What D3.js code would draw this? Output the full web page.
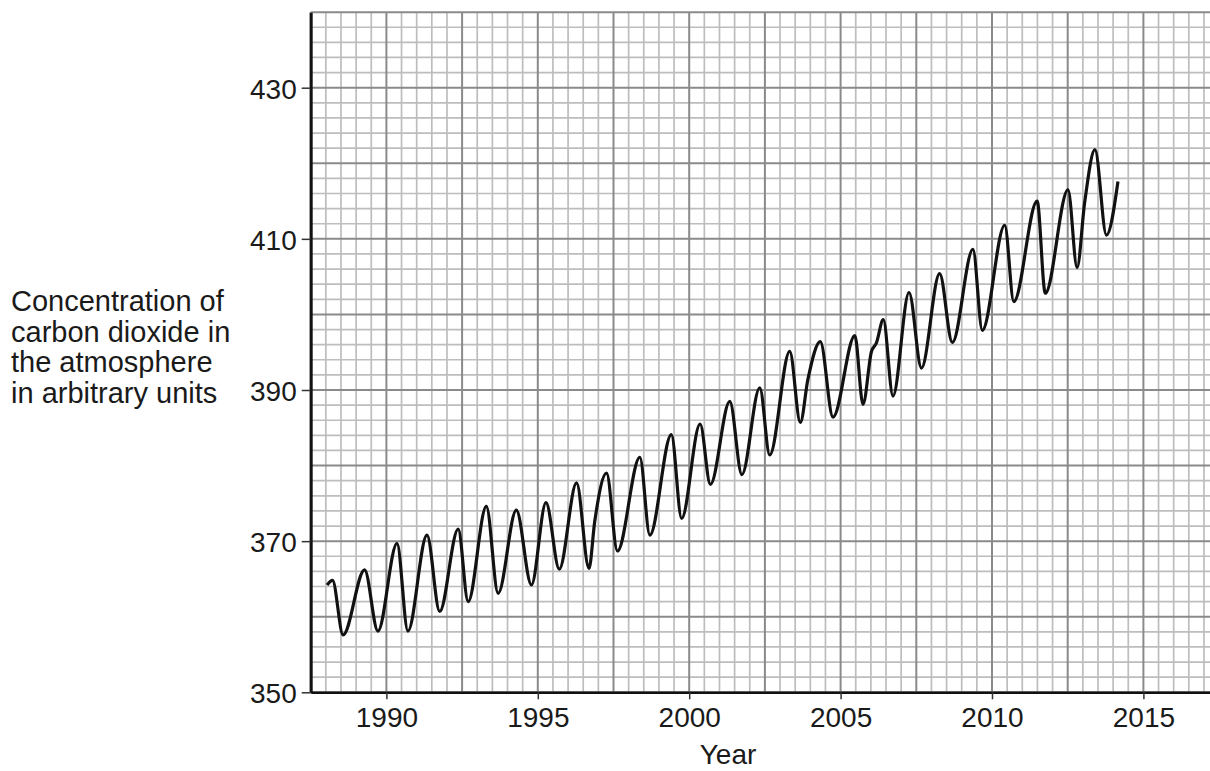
<!DOCTYPE html>
<html>
<head>
<meta charset="utf-8">
<script src="https://cdn.jsdelivr.net/npm/d3@7"></script>
<style>
  html, body { margin: 0; padding: 0; background: #fff; }
  svg { display: block; font-family: "Liberation Sans", Arial, sans-serif; }
</style>
</head>
<body>
<script>
// points (year, concentration)
var years = [1988.04, 1988.22, 1988.57, 1989.28, 1989.72, 1990.35, 1990.71, 1991.34, 1991.76, 1992.37,
  1992.70, 1993.30, 1993.69, 1994.29, 1994.79, 1995.27, 1995.71, 1996.28, 1996.69, 1996.88,
  1997.27, 1997.63, 1998.37, 1998.70, 1999.41, 1999.75, 2000.36, 2000.70, 2001.34, 2001.74,
  2002.33, 2002.66, 2003.32, 2003.67, 2003.92, 2004.33, 2004.75, 2005.47, 2005.74, 2006.02,
  2006.18, 2006.41, 2006.73, 2007.26, 2007.67, 2008.27, 2008.69, 2009.37, 2009.68, 2010.42,
  2010.72, 2011.49, 2011.76, 2012.51, 2012.81, 2013.06, 2013.40, 2013.78, 2014.16];
var co2 = [364.2, 364.8, 357.6, 366.2, 358.1, 369.7, 358.1, 370.8, 360.7, 371.6,
  362.0, 374.6, 363.1, 374.1, 364.2, 375.1, 366.3, 377.7, 366.4, 372.6,
  379.0, 368.7, 381.1, 370.8, 384.1, 373.0, 385.5, 377.5, 388.5, 378.8,
  390.3, 381.4, 395.1, 385.7, 391.4, 396.4, 386.4, 397.2, 388.1, 395.1,
  396.2, 399.3, 389.2, 402.9, 392.9, 405.4, 396.3, 408.6, 397.9, 411.8,
  401.7, 415.0, 402.8, 416.5, 406.2, 414.8, 421.8, 410.5, 417.6];

// tick labels
var xTicks = [1990, 1995, 2000, 2005, 2010, 2015];
var yTicks = [350, 370, 390, 410, 430];
var yLabel = ["Concentration of", "carbon dioxide in", "the atmosphere", "in arbitrary units"];
var xLabel = "Year";

var width = 1210, height = 771;

var svg = d3.select("body")
  .append("svg")
  .attr("width", width)
  .attr("height", height);

// scales: axis corner sits at (310.7, 692.3)
var x = d3.scaleLinear().domain([1987.5, 2017.5]).range([310.7, 310.7 + 30 * 30.28]);
var y = d3.scaleLinear().domain([350, 440]).range([692.3, 692.3 - 90 * 7.5575]);

// graph paper grid
var minorX = d3.range(1987.5, 2017.51, 0.5);
var minorY = d3.range(350, 440.1, 2);
var isMajorX = function(v) { return Math.abs((v / 2.5) - Math.round(v / 2.5)) < 1e-6; };
var isMajorY = function(v) { return v % 10 === 0; };

var grid = svg.append("g");

grid.selectAll("line.vminor")
  .data(minorX.filter(function(v) { return !isMajorX(v); }))
  .enter().append("line")
  .attr("x1", function(d) { return x(d); })
  .attr("x2", function(d) { return x(d); })
  .attr("y1", y(350)).attr("y2", y(440))
  .style("stroke", "#bdbdbd").style("stroke-width", 1.7);

grid.selectAll("line.hminor")
  .data(minorY.filter(function(v) { return !isMajorY(v); }))
  .enter().append("line")
  .attr("x1", x(1987.5)).attr("x2", width)
  .attr("y1", function(d) { return y(d); })
  .attr("y2", function(d) { return y(d); })
  .style("stroke", "#bdbdbd").style("stroke-width", 1.7);

grid.selectAll("line.vmajor")
  .data(minorX.filter(isMajorX))
  .enter().append("line")
  .attr("x1", function(d) { return x(d); })
  .attr("x2", function(d) { return x(d); })
  .attr("y1", y(350)).attr("y2", y(440))
  .style("stroke", "#8a8a8a").style("stroke-width", 2);

grid.selectAll("line.hmajor")
  .data(minorY.filter(isMajorY))
  .enter().append("line")
  .attr("x1", x(1987.5)).attr("x2", width)
  .attr("y1", function(d) { return y(d); })
  .attr("y2", function(d) { return y(d); })
  .style("stroke", "#8a8a8a").style("stroke-width", 2);

// axes
var xAxis = svg.append("g")
  .attr("transform", "translate(0," + y(350) + ")")
  .call(d3.axisBottom(x).tickValues(xTicks).tickFormat(d3.format("d"))
    .tickSize(7).tickSizeOuter(0).tickPadding(8));

var yAxis = svg.append("g")
  .attr("transform", "translate(" + x(1987.5) + ",0)")
  .call(d3.axisLeft(y).tickValues(yTicks).tickFormat(d3.format("d"))
    .tickSize(9).tickSizeOuter(0).tickPadding(5));

xAxis.select(".domain").style("stroke", "#111").style("stroke-width", 2.6);
yAxis.select(".domain").style("stroke", "#111").style("stroke-width", 3);
svg.selectAll(".tick line").style("stroke", "#333").style("stroke-width", 1.5);
svg.selectAll(".tick text")
  .style("font-family", "'Liberation Sans', Arial, sans-serif")
  .style("font-size", "28px")
  .style("fill", "#1a1a1a");
yAxis.selectAll(".tick text").attr("dy", "0.37em");

// the carbon dioxide curve
var line = d3.line()
  .x(function(d) { return x(d[0]); })
  .y(function(d) { return y(d[1]); })
  .curve(d3.curveMonotoneX);

svg.append("path")
  .datum(d3.zip(years, co2))
  .attr("d", line)
  .style("fill", "none")
  .style("stroke", "#111")
  .style("stroke-width", 3.2)
  .style("stroke-linejoin", "round");

// axis titles
svg.append("text")
  .attr("x", 11)
  .style("font-size", "29px")
  .style("fill", "#1a1a1a")
  .selectAll("tspan")
  .data(yLabel)
  .enter().append("tspan")
  .attr("x", 11)
  .attr("y", function(d, i) { return 311 + i * 30.5; })
  .text(function(d) { return d; });

svg.append("text")
  .attr("x", 728)
  .attr("y", 764)
  .attr("text-anchor", "middle")
  .style("font-size", "28px")
  .style("fill", "#1a1a1a")
  .text(xLabel);
</script>
</body>
</html>
